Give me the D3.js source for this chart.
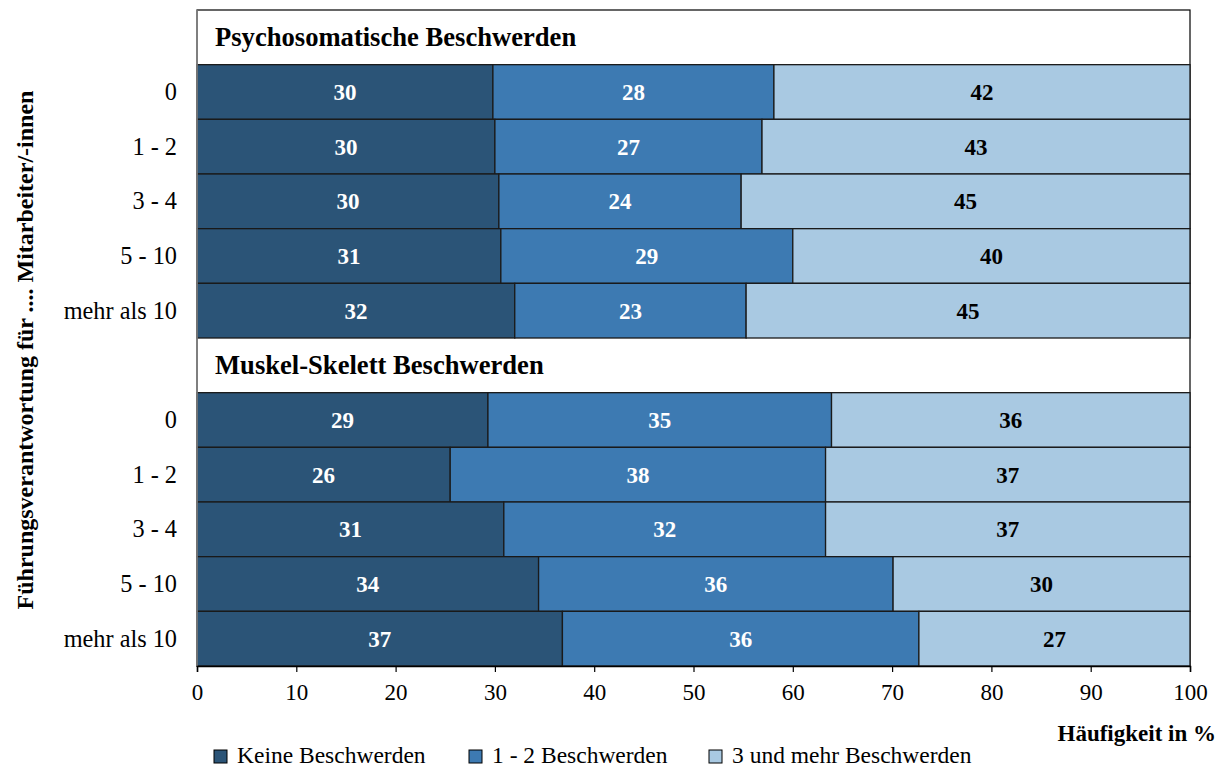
<!DOCTYPE html>
<html>
<head>
<meta charset="utf-8">
<script src="https://cdn.jsdelivr.net/npm/d3@7"></script>
<style>
  body { margin: 0; background: #fff; }
  text { font-family: "Liberation Serif", "Times New Roman", serif; }
</style>
</head>
<body>
<script>
// values (widths), labels are rounded
var groups = ["Psychosomatische Beschwerden", "Muskel-Skelett Beschwerden"];
var categories = ["0", "1 - 2", "3 - 4", "5 - 10", "mehr als 10"];
var seriesNames = ["Keine Beschwerden", "1 - 2 Beschwerden", "3 und mehr Beschwerden"];
var psychoKeine = [29.8, 30.0, 30.4, 30.6, 32.0];
var psychoEins = [28.3, 26.9, 24.4, 29.4, 23.3];
var psychoDrei = [41.9, 43.1, 45.2, 40.0, 44.7];
var muskelKeine = [29.3, 25.5, 30.9, 34.4, 36.8];
var muskelEins = [34.6, 37.8, 32.4, 35.7, 35.9];
var muskelDrei = [36.1, 36.7, 36.7, 29.9, 27.3];
var xTicks = [0, 10, 20, 30, 40, 50, 60, 70, 80, 90, 100];
var colors = ["#2b5477", "#3d7ab2", "#a9c9e2"];
var labelColors = ["#fff", "#fff", "#000"];

var width = 1224, height = 767;
var margin = {left: 197, right: 34, top: 10, bottom: 101};

var svg = d3.select("body").append("svg")
	.attr("width", width)
	.attr("height", height);

// one band per title row and per bar row
var rows = [];
var groupData = [[psychoKeine, psychoEins, psychoDrei], [muskelKeine, muskelEins, muskelDrei]];
groups.forEach(function(g, gi) {
	rows.push({id: "t" + gi, title: g});
	categories.forEach(function(c, ci) {
		rows.push({id: "r" + gi + "_" + ci, cat: c, vals: groupData[gi].map(function(s) { return s[ci]; })});
	});
});

var x = d3.scaleLinear().domain([0, 100]).range([margin.left, width - margin.right]);
var y = d3.scaleBand().domain(rows.map(function(r) { return r.id; }))
	.range([margin.top, height - margin.bottom]).padding(0);

// frame
svg.append("rect")
	.attr("x", x(0)).attr("y", y.range()[0])
	.attr("width", x(100) - x(0)).attr("height", y.range()[1] - y.range()[0])
	.attr("fill", "#fff").attr("stroke", "#000").attr("stroke-width", 1.2);

rows.forEach(function(r) {
	if (r.title) {
		svg.append("text")
			.attr("x", x(0) + 18)
			.attr("y", y(r.id) + y.bandwidth() / 2 + 9)
			.attr("font-size", 26.6).attr("font-weight", "bold")
			.text(r.title);
		return;
	}
	var start = 0;
	r.vals.forEach(function(v, i) {
		svg.append("rect")
			.attr("x", x(start)).attr("y", y(r.id))
			.attr("width", x(start + v) - x(start)).attr("height", y.bandwidth())
			.attr("fill", colors[i]).attr("stroke", "#1a1a1a").attr("stroke-width", 1.3);
		svg.append("text")
			.attr("x", x(start + v / 2)).attr("y", y(r.id) + y.bandwidth() / 2 + 8)
			.attr("text-anchor", "middle").attr("font-size", 23).attr("font-weight", "bold")
			.attr("fill", labelColors[i])
			.text(Math.round(v));
		start += v;
	});
	svg.append("text")
		.attr("x", 177).attr("y", y(r.id) + y.bandwidth() / 2 + 8)
		.attr("text-anchor", "end").attr("font-size", 24.3)
		.text(r.cat);
});

// left axis line
svg.append("line")
	.attr("x1", x(0)).attr("x2", x(0))
	.attr("y1", y.range()[0]).attr("y2", y.range()[1])
	.attr("stroke", "#888").attr("stroke-width", 1.5);

// x axis
var xAxis = svg.append("g")
	.attr("transform", "translate(0," + y.range()[1] + ")")
	.call(d3.axisBottom(x).tickValues(xTicks).tickSize(6).tickPadding(12));
xAxis.select(".domain").attr("stroke", "#000").attr("stroke-width", 1.5);
xAxis.selectAll(".tick line").attr("stroke", "#000").attr("stroke-width", 1.2);
xAxis.selectAll("text")
	.attr("font-family", "Liberation Serif, serif")
	.attr("font-size", 23).attr("fill", "#000");

svg.append("text")
	.attr("x", 1216).attr("y", 741)
	.attr("text-anchor", "end").attr("font-size", 23).attr("font-weight", "bold")
	.text("Häufigkeit in %");

svg.append("text")
	.attr("transform", "translate(33,350) rotate(-90)")
	.attr("text-anchor", "middle").attr("font-size", 24).attr("font-weight", "bold")
	.text("Führungsverantwortung für .... Mitarbeiter/-innen");

// legend
var legendX = [214, 469, 709];
seriesNames.forEach(function(s, i) {
	svg.append("rect")
		.attr("x", legendX[i]).attr("y", 750)
		.attr("width", 13).attr("height", 13)
		.attr("fill", colors[i]).attr("stroke", "#000").attr("stroke-width", 1);
	svg.append("text")
		.attr("x", legendX[i] + 23).attr("y", 763)
		.attr("font-size", 23.5)
		.text(s);
});
</script>
</body>
</html>
